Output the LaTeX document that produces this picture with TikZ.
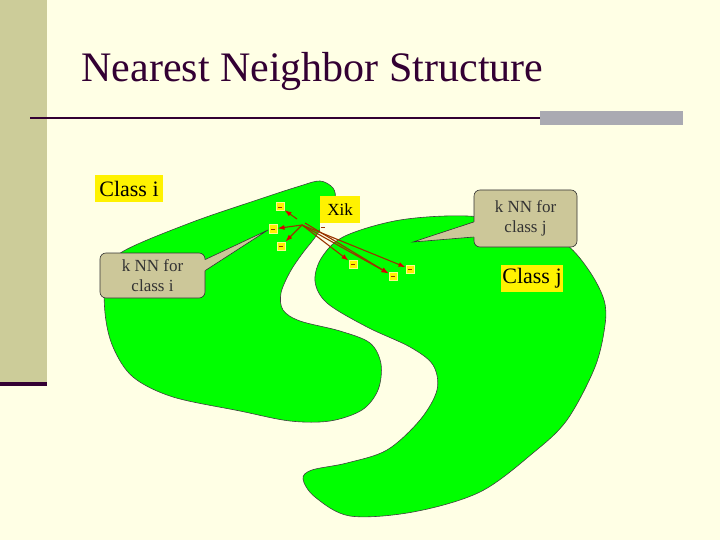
\documentclass[tikz,border=0pt]{standalone}
\usepackage{fontspec}
\setmainfont{Liberation Serif}
\usetikzlibrary{arrows.meta}
\definecolor{cream}{RGB}{255,255,229}
\definecolor{sidebar}{RGB}{204,204,153}
\definecolor{plum}{RGB}{51,0,51}
\definecolor{bargray}{RGB}{170,170,178}
\definecolor{tanbox}{RGB}{204,199,153}
\definecolor{regiongreen}{RGB}{0,255,0}
\definecolor{linkbrown}{RGB}{153,51,0}
\begin{document}
\begin{tikzpicture}[x=1pt,y=-1pt, every node/.style={font=\fontsize{17}{20}\selectfont},
    region/.style={fill=regiongreen, draw=black!75, line width=0.6pt},
    lab/.style={fill=yellow, inner sep=0pt, font=\fontsize{22}{26}\selectfont},
    callbox/.style={fill=tanbox, draw=black!80, line width=0.6pt, rounded corners=6pt, align=center, text=black!80, inner sep=0pt},
    nbr/.style={fill=yellow, draw=yellow!45, line width=1pt, minimum size=8pt, inner sep=0pt,
        path picture={\draw[linkbrown, line width=0.5pt] ([xshift=-2.2pt]path picture bounding box.center) -- ([xshift=2.2pt]path picture bounding box.center);}},
    link/.style={draw=linkbrown, line width=1.1pt, -{Latex[color=red!85!black, length=7pt, width=5pt]}}]
    \useasboundingbox (0,0) rectangle (720,540);
    \fill[cream] (0,0) rectangle (720,540);
    \fill[sidebar] (0,0) rectangle (47,382);
    \fill[plum] (0,382) rectangle (47,386);
    \node[anchor=base west, text=plum, font=\fontsize{42}{48}\selectfont] (title) at (78,82) {Nearest Neighbor Structure};
    \draw[plum, line width=2pt] (30,118) -- (540,118);
    \fill[bargray] (540,111) rectangle (683,125);
    % class i region
    \draw[region] plot[smooth cycle, tension=0.55] coordinates {(122,252) (190,223) (257,200) (300,186) (320,181) (333,188) (335,200) (327,217) (316,236) (302,254) (290,272) (281,293) (283,310) (300,321) (340,331) (370,343) (381,364) (378,390) (362,410) (330,421) (290,421) (240,411) (173,397) (133,377) (113,347) (105,313) (106,275)};
    % class j region
    \draw[region] plot[smooth cycle, tension=0.55] coordinates {(315,281) (322,257) (345,236) (400,220) (467,216) (530,225) (567,245) (590,272) (604,300) (605,325) (595,367) (567,420) (533,453) (480,492) (413,512) (350,516) (315,497) (303,479) (312,470) (347,463) (387,450) (420,420) (437,390) (433,365) (410,347) (367,327) (327,303)};
    \node[lab, minimum width=68, minimum height=27] (classi) at (129,188.5) {Class i};
    \node[lab, minimum width=62, minimum height=27] (classj) at (532,278.5) {Class j};
    \node[lab, minimum width=40, minimum height=27, font=\fontsize{17}{20}\selectfont] (xik) at (340,209.5) {Xik};
    \node[nbr] (a1) at (280,207) {};
    \node[nbr] (a2) at (273,229) {};
    \node[nbr] (a3) at (281,246) {};
    \node[nbr, fill=white!90!yellow, draw=none, minimum size=7pt] (xk) at (323,227) {};
    \node[nbr] (b1) at (353,264) {};
    \node[nbr] (b2) at (393,276) {};
    \node[nbr] (b3) at (410,269) {};
    \coordinate (src) at (302,225);
    \coordinate (src2) at (305,223);
    \draw[link] (297,219) -- (a1);
    \draw[link] (src) -- (a2);
    \draw[link] (src) -- (a3);
    \draw[link] (src) -- (b1);
    \draw[link] (src) -- (b2);
    \draw[link] (src) -- (b3);
    \draw[link] (src2) -- (b2);
    % callouts
    \node[callbox, minimum width=105, minimum height=45] (kni) at (152.5,275.5) {k NN for\\class i};
    \coordinate (tipi) at (268,230);
    \fill[tanbox] ([yshift=16pt]kni.east) -- (tipi) -- ([yshift=5pt]kni.east) -- ([xshift=-6pt,yshift=5pt]kni.east) -- ([xshift=-6pt,yshift=16pt]kni.east) -- cycle;
    \draw[black!80, line width=0.6pt] ([yshift=16pt]kni.east) -- (tipi) -- ([yshift=5pt]kni.east);
    \node[callbox, minimum width=103, minimum height=57] (knj) at (525.5,218.5) {k NN for\\class j};
    \coordinate (tipj) at (413,242);
    \fill[tanbox] ([yshift=-3.5pt]knj.west) -- (tipj) -- ([yshift=-18.5pt]knj.west) -- ([xshift=6pt,yshift=-18.5pt]knj.west) -- ([xshift=6pt,yshift=-3.5pt]knj.west) -- cycle;
    \draw[black!80, line width=0.6pt] ([yshift=-3.5pt]knj.west) -- (tipj) -- ([yshift=-18.5pt]knj.west);
\end{tikzpicture}
\end{document}
